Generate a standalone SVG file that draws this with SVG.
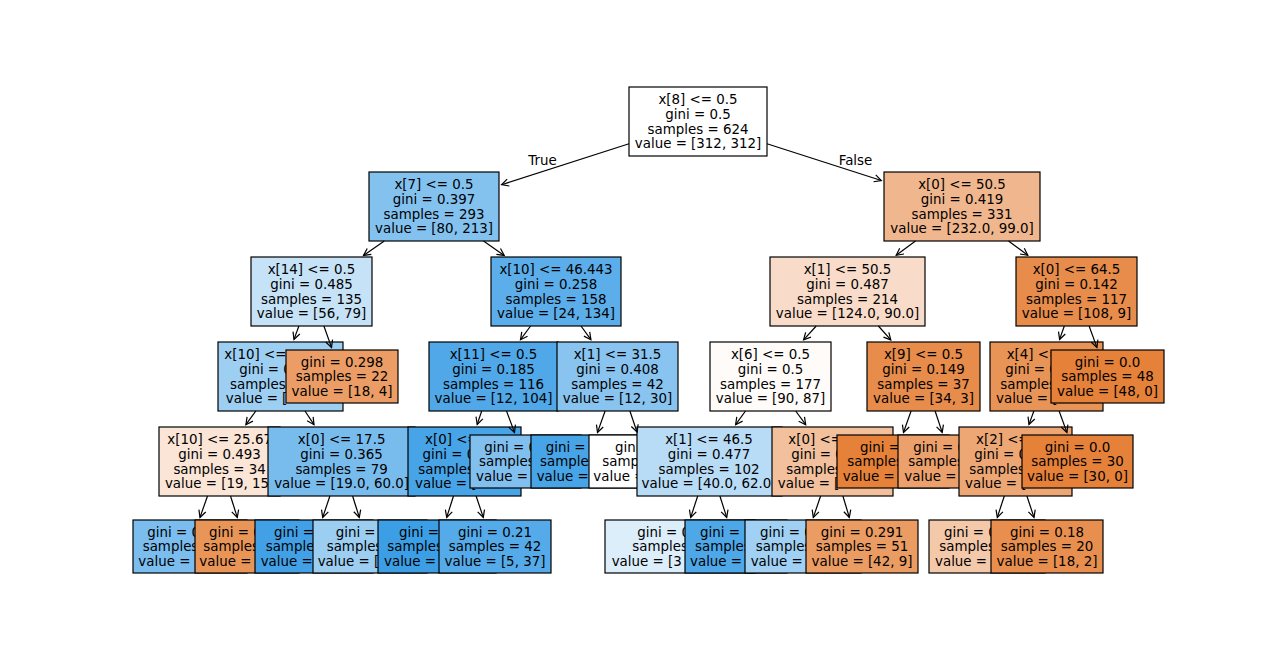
<svg xmlns="http://www.w3.org/2000/svg" width="1264" height="662" viewBox="0 0 1264 662">
<style>
text{font-family:"DejaVu Sans","Liberation Sans",sans-serif;font-size:13.4px;fill:#000}
.c{text-anchor:middle}
.n rect{stroke:#000;stroke-width:1.2}
#connectors line{stroke:#000;stroke-width:1.2;marker-end:url(#ah)}
</style>
<defs>
<marker id="ah" markerUnits="userSpaceOnUse" viewBox="-9 -5 11 10" markerWidth="11" markerHeight="10" refX="0" refY="0" orient="auto">
<path d="M-7,-3.6 L0,0 L-7,3.6" fill="none" stroke="#000" stroke-width="1.2"/>
</marker>
</defs>
<rect x="0" y="0" width="1264" height="662" fill="#fff"/>
<g id="n_root" class="n"><rect x="629" y="87" width="138" height="69" fill="#ffffff"/><text class="c" x="698" y="104.2">x[8] &lt;= 0.5</text><text class="c" x="698" y="118.9">gini = 0.5</text><text class="c" x="698" y="133.6">samples = 624</text><text class="c" x="698" y="148.3">value = [312, 312]</text></g>
<g id="n_1" class="n"><rect x="369" y="172" width="130" height="69" fill="#83c2ef"/><text class="c" x="434" y="189.2">x[7] &lt;= 0.5</text><text class="c" x="434" y="203.9">gini = 0.397</text><text class="c" x="434" y="218.6">samples = 293</text><text class="c" x="434" y="233.3">value = [80, 213]</text></g>
<g id="n_2" class="n"><rect x="884" y="172" width="156" height="69" fill="#f0b78e"/><text class="c" x="962" y="189.2">x[0] &lt;= 50.5</text><text class="c" x="962" y="203.9">gini = 0.419</text><text class="c" x="962" y="218.6">samples = 331</text><text class="c" x="962" y="233.3">value = [232.0, 99.0]</text></g>
<g id="n_A" class="n"><rect x="251" y="257" width="121" height="69" fill="#c5e2f7"/><text class="c" x="311.5" y="274.2">x[14] &lt;= 0.5</text><text class="c" x="311.5" y="288.9">gini = 0.485</text><text class="c" x="311.5" y="303.6">samples = 135</text><text class="c" x="311.5" y="318.3">value = [56, 79]</text></g>
<g id="n_B" class="n"><rect x="491" y="257" width="130" height="69" fill="#5caeea"/><text class="c" x="556" y="274.2">x[10] &lt;= 46.443</text><text class="c" x="556" y="288.9">gini = 0.258</text><text class="c" x="556" y="303.6">samples = 158</text><text class="c" x="556" y="318.3">value = [24, 134]</text></g>
<g id="n_C" class="n"><rect x="770" y="257" width="155" height="69" fill="#f8dcc9"/><text class="c" x="847.5" y="274.2">x[1] &lt;= 50.5</text><text class="c" x="847.5" y="288.9">gini = 0.487</text><text class="c" x="847.5" y="303.6">samples = 214</text><text class="c" x="847.5" y="318.3">value = [124.0, 90.0]</text></g>
<g id="n_D" class="n"><rect x="1016" y="257" width="121" height="69" fill="#e78c4a"/><text class="c" x="1076.5" y="274.2">x[0] &lt;= 64.5</text><text class="c" x="1076.5" y="288.9">gini = 0.142</text><text class="c" x="1076.5" y="303.6">samples = 117</text><text class="c" x="1076.5" y="318.3">value = [108, 9]</text></g>
<g id="n_x10a" class="n"><rect x="218" y="342" width="125" height="69" fill="#9dcff2"/><text x="224.3" y="359.2">x[10] &lt;=</text><text x="239.2" y="373.9">gini = 0</text><text x="230" y="388.6">samples</text><text x="225.8" y="403.3">value = [</text></g>
<g id="n_leaf298" class="n"><rect x="286" y="350" width="112" height="53" fill="#eb9d65"/><text class="c" x="342" y="366.5">gini = 0.298</text><text class="c" x="342" y="381.2">samples = 22</text><text class="c" x="342" y="395.9">value = [18, 4]</text></g>
<g id="n_x11" class="n"><rect x="429" y="342" width="129" height="69" fill="#50a8e8"/><text class="c" x="493.5" y="359.2">x[11] &lt;= 0.5</text><text class="c" x="493.5" y="373.9">gini = 0.185</text><text class="c" x="493.5" y="388.6">samples = 116</text><text class="c" x="493.5" y="403.3">value = [12, 104]</text></g>
<g id="n_x1a" class="n"><rect x="557" y="342" width="121" height="69" fill="#88c4ef"/><text class="c" x="617.5" y="359.2">x[1] &lt;= 31.5</text><text class="c" x="617.5" y="373.9">gini = 0.408</text><text class="c" x="617.5" y="388.6">samples = 42</text><text class="c" x="617.5" y="403.3">value = [12, 30]</text></g>
<g id="n_x6" class="n"><rect x="710" y="342" width="121" height="69" fill="#fefbf8"/><text class="c" x="770.5" y="359.2">x[6] &lt;= 0.5</text><text class="c" x="770.5" y="373.9">gini = 0.5</text><text class="c" x="770.5" y="388.6">samples = 177</text><text class="c" x="770.5" y="403.3">value = [90, 87]</text></g>
<g id="n_x9" class="n"><rect x="867" y="342" width="113" height="69" fill="#e78c4a"/><text class="c" x="923.5" y="359.2">x[9] &lt;= 0.5</text><text class="c" x="923.5" y="373.9">gini = 0.149</text><text class="c" x="923.5" y="388.6">samples = 37</text><text class="c" x="923.5" y="403.3">value = [34, 3]</text></g>
<g id="n_x4" class="n"><rect x="990" y="342" width="113" height="69" fill="#e99457"/><text x="1006.7" y="359.2">x[4] &lt;=</text><text x="1005.2" y="373.9">gini = 0</text><text x="1000.3" y="388.6">samples</text><text x="996" y="403.3">value = [</text></g>
<g id="n_leaf48" class="n"><rect x="1051" y="350" width="113" height="53" fill="#e58139"/><text class="c" x="1107.5" y="366.5">gini = 0.0</text><text class="c" x="1107.5" y="381.2">samples = 48</text><text class="c" x="1107.5" y="395.9">value = [48, 0]</text></g>
<g id="n_x10b" class="n"><rect x="159" y="427" width="121" height="69" fill="#fae5d6"/><text class="c" x="219.6" y="444.2">x[10] &lt;= 25.67</text><text class="c" x="219.6" y="458.9">gini = 0.493</text><text class="c" x="219.6" y="473.6">samples = 34</text><text class="c" x="219.6" y="488.3">value = [19, 15]</text></g>
<g id="n_x0a" class="n"><rect x="268" y="427" width="147" height="69" fill="#78bced"/><text class="c" x="341.6" y="444.2">x[0] &lt;= 17.5</text><text class="c" x="341.6" y="458.9">gini = 0.365</text><text class="c" x="341.6" y="473.6">samples = 79</text><text class="c" x="341.6" y="488.3">value = [19.0, 60.0]</text></g>
<g id="n_x0b" class="n"><rect x="408" y="427" width="113" height="69" fill="#47a4e7"/><text x="425" y="444.2">x[0] &lt;=</text><text x="422.5" y="458.9">gini = 0</text><text x="418.3" y="473.6">samples</text><text x="415" y="488.3">value = [</text></g>
<g id="n_leafA" class="n"><rect x="470" y="435" width="111" height="53" fill="#80bfee"/><text x="484.3" y="451.5">gini = 0</text><text x="479" y="466.2">samples</text><text x="476" y="480.9">value =</text></g>
<g id="n_leafB" class="n"><rect x="531" y="435" width="112" height="53" fill="#47a4e7"/><text x="545.7" y="451.5">gini =</text><text x="540" y="466.2">samples</text><text x="536.7" y="480.9">value =</text></g>
<g id="n_leafW" class="n"><rect x="589" y="435" width="118" height="53" fill="#ffffff"/><text x="615" y="451.5">gini</text><text x="602.3" y="466.2">samp</text><text x="593.3" y="480.9">value =</text></g>
<g id="n_x1b" class="n"><rect x="637" y="427" width="145" height="69" fill="#b9dcf6"/><text class="c" x="709" y="444.2">x[1] &lt;= 46.5</text><text class="c" x="709" y="458.9">gini = 0.477</text><text class="c" x="709" y="473.6">samples = 102</text><text class="c" x="709" y="488.3">value = [40.0, 62.0]</text></g>
<g id="n_x0c" class="n"><rect x="772" y="427" width="121" height="69" fill="#f2c09c"/><text x="788.3" y="444.2">x[0] &lt;=</text><text x="791.2" y="458.9">gini = 0</text><text x="786.2" y="473.6">samples</text><text x="777.8" y="488.3">value = [</text></g>
<g id="n_leafC" class="n"><rect x="837" y="435" width="112" height="53" fill="#e58139"/><text x="860" y="451.5">gini =</text><text x="847.3" y="466.2">samples</text><text x="842.7" y="480.9">value =</text></g>
<g id="n_leafD" class="n"><rect x="898" y="435" width="108" height="53" fill="#eca16c"/><text x="913.3" y="451.5">gini = 0</text><text x="908.3" y="466.2">samples</text><text x="904.3" y="480.9">value =</text></g>
<g id="n_x2" class="n"><rect x="959" y="427" width="113" height="69" fill="#eda774"/><text x="976" y="444.2">x[2] &lt;=</text><text x="974.3" y="458.9">gini = 0</text><text x="969.3" y="473.6">samples</text><text x="965" y="488.3">value = [</text></g>
<g id="n_leaf30" class="n"><rect x="1022" y="435" width="111" height="53" fill="#e58139"/><text class="c" x="1077.5" y="451.5">gini = 0.0</text><text class="c" x="1077.5" y="466.2">samples = 30</text><text class="c" x="1077.5" y="480.9">value = [30, 0]</text></g>
<g id="n_l5a" class="n"><rect x="133" y="520" width="114" height="53" fill="#7bbdee"/><text x="147.3" y="536.5">gini = 0</text><text x="142.7" y="551.2">samples</text><text x="138.3" y="565.9">value =</text></g>
<g id="n_l5b" class="n"><rect x="195" y="520" width="104" height="53" fill="#e99558"/><text x="209" y="536.5">gini = 0</text><text x="203.3" y="551.2">samples</text><text x="199.3" y="565.9">value =</text></g>
<g id="n_l5c" class="n"><rect x="255" y="520" width="118" height="53" fill="#42a1e6"/><text x="274" y="536.5">gini =</text><text x="265.7" y="551.2">samples</text><text x="260.7" y="565.9">value =</text></g>
<g id="n_l5d" class="n"><rect x="313" y="520" width="114" height="53" fill="#9ccef2"/><text x="335.7" y="536.5">gini =</text><text x="326.7" y="551.2">samples</text><text x="317.7" y="565.9">value = [</text></g>
<g id="n_l5e" class="n"><rect x="378" y="520" width="118" height="53" fill="#3c9fe5"/><text x="399" y="536.5">gini =</text><text x="387.3" y="551.2">samples</text><text x="384" y="565.9">value =</text></g>
<g id="n_l5f" class="n"><rect x="439" y="520" width="112" height="53" fill="#55abe9"/><text class="c" x="495" y="536.5">gini = 0.21</text><text class="c" x="495" y="551.2">samples = 42</text><text class="c" x="495" y="565.9">value = [5, 37]</text></g>
<g id="n_l5g" class="n"><rect x="605" y="520" width="150" height="53" fill="#ddeefb"/><text x="637.3" y="536.5">gini = 0</text><text x="632.3" y="551.2">samples</text><text x="611.7" y="565.9">value = [3</text></g>
<g id="n_l5h" class="n"><rect x="685" y="520" width="102" height="53" fill="#4ea8e8"/><text x="700" y="536.5">gini = 0</text><text x="695" y="551.2">samples</text><text x="690" y="565.9">value =</text></g>
<g id="n_l5i" class="n"><rect x="745" y="520" width="116" height="53" fill="#a0d0f3"/><text x="760" y="536.5">gini = 0</text><text x="755.7" y="551.2">samples</text><text x="750.7" y="565.9">value =</text></g>
<g id="n_l5j" class="n"><rect x="806" y="520" width="112" height="53" fill="#eb9c63"/><text class="c" x="862" y="536.5">gini = 0.291</text><text class="c" x="862" y="551.2">samples = 51</text><text class="c" x="862" y="565.9">value = [42, 9]</text></g>
<g id="n_l5k" class="n"><rect x="929" y="520" width="116" height="53" fill="#f4c9aa"/><text x="944" y="536.5">gini = 0</text><text x="939.3" y="551.2">samples</text><text x="935" y="565.9">value =</text></g>
<g id="n_l5l" class="n"><rect x="991" y="520" width="112" height="53" fill="#e88f4f"/><text class="c" x="1047" y="536.5">gini = 0.18</text><text class="c" x="1047" y="551.2">samples = 20</text><text class="c" x="1047" y="565.9">value = [18, 2]</text></g>
<g id="connectors">
<line x1="629" y1="143.7" x2="501.6" y2="184.7"/>
<line x1="767" y1="143.7" x2="881.3" y2="180.5"/>
<line x1="384.3" y1="241" x2="363.5" y2="255.4"/>
<line x1="483.5" y1="241" x2="504.2" y2="255.4"/>
<line x1="915.5" y1="241" x2="896.2" y2="255.3"/>
<line x1="1008.5" y1="241" x2="1027.8" y2="255.3"/>
<line x1="298.9" y1="326" x2="294" y2="339.4"/>
<line x1="323.9" y1="326" x2="331.5" y2="347.4"/>
<line x1="530.6" y1="326" x2="520.5" y2="339.7"/>
<line x1="581" y1="326" x2="590.9" y2="339.7"/>
<line x1="816.2" y1="326" x2="803.6" y2="339.9"/>
<line x1="878.4" y1="326" x2="890.8" y2="339.9"/>
<line x1="1064.3" y1="326" x2="1059.6" y2="339.4"/>
<line x1="1089.1" y1="326" x2="1096.9" y2="347.4"/>
<line x1="255.8" y1="411" x2="245.9" y2="424.7"/>
<line x1="305" y1="411" x2="314" y2="424.7"/>
<line x1="481.7" y1="411" x2="477.2" y2="424.4"/>
<line x1="506.5" y1="411" x2="514.5" y2="432.4"/>
<line x1="605.1" y1="411" x2="597.5" y2="432.4"/>
<line x1="629.9" y1="411" x2="637" y2="432"/>
<line x1="745.5" y1="411" x2="735.6" y2="424.7"/>
<line x1="795.7" y1="411" x2="805.7" y2="424.7"/>
<line x1="911.1" y1="411" x2="903.5" y2="432.4"/>
<line x1="935.1" y1="411" x2="942.2" y2="432.4"/>
<line x1="1033.9" y1="411" x2="1029" y2="424.4"/>
<line x1="1059.1" y1="411" x2="1066.9" y2="432.4"/>
<line x1="207.5" y1="496" x2="200" y2="517.4"/>
<line x1="230.5" y1="496" x2="237.3" y2="517.4"/>
<line x1="329.9" y1="496" x2="322.7" y2="517.4"/>
<line x1="352.6" y1="496" x2="359.3" y2="517.4"/>
<line x1="453.5" y1="496" x2="446.7" y2="517.4"/>
<line x1="476.1" y1="496" x2="483.3" y2="517.4"/>
<line x1="697.7" y1="496" x2="690.7" y2="517.4"/>
<line x1="719.9" y1="496" x2="726.7" y2="517.4"/>
<line x1="820.6" y1="496" x2="813.3" y2="517.4"/>
<line x1="842.9" y1="496" x2="849.3" y2="517.4"/>
<line x1="1004.3" y1="496" x2="997.3" y2="517.4"/>
<line x1="1026.9" y1="496" x2="1034" y2="517.4"/>
<text class="c" x="542.5" y="165">True</text>
<text class="c" x="855.5" y="165">False</text>
</g>
</svg>
